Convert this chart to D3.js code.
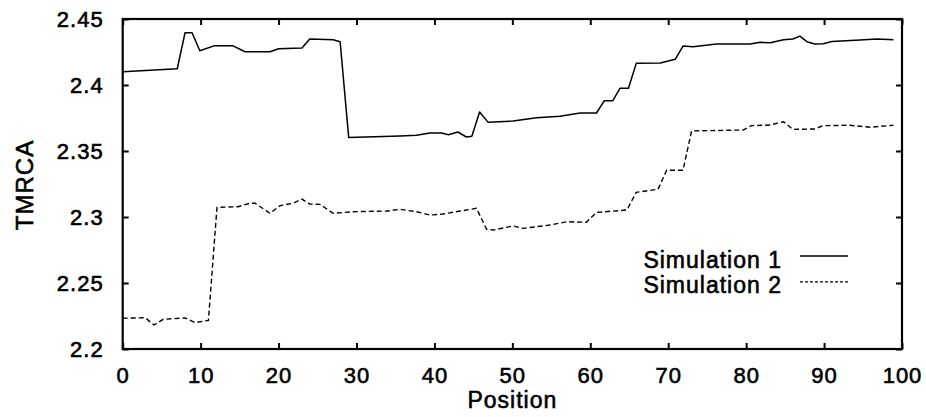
<!DOCTYPE html>
<html>
<head>
<meta charset="utf-8">
<script src="https://cdn.jsdelivr.net/npm/d3@7"></script>
<style>
  html, body { margin: 0; padding: 0; background: #fff; }
  svg { display: block; }
  text { font-family: "Liberation Sans", Arial, Helvetica, sans-serif; fill: #000; }
</style>
</head>
<body>
<svg id="chart" width="926" height="417"></svg>
<script>
// TMRCA along the sequence for two simulated data sets
const positions1 = [0, 7, 8, 8.9, 9.9, 11.8, 14.1, 15.7, 18.9, 20, 23, 24, 27, 27.9, 29, 35.6, 37.7, 39.4, 40.9, 41.8, 43, 44.1, 44.8, 45.8, 46.9, 50.1, 53.1, 56.1, 58.7, 60.8, 61.8, 62.9, 63.8, 64.9, 65.9, 69, 70.9, 71.9, 73.2, 76.2, 80.5, 81.8, 83.1, 84.8, 86, 86.9, 87.8, 88.8, 89.9, 91, 94.6, 96.8, 98.9];
const values1 = [2.4100, 2.4123, 2.4396, 2.4396, 2.4260, 2.4298, 2.4298, 2.4252, 2.4252, 2.4275, 2.4280, 2.4348, 2.4343, 2.4328, 2.3603, 2.3614, 2.3619, 2.3636, 2.3636, 2.3623, 2.3644, 2.3606, 2.3612, 2.3795, 2.3717, 2.3727, 2.3752, 2.3763, 2.3788, 2.3788, 2.3881, 2.3881, 2.3975, 2.3975, 2.4164, 2.4167, 2.4195, 2.4295, 2.4290, 2.4310, 2.4310, 2.4323, 2.4320, 2.4343, 2.4348, 2.4370, 2.4328, 2.4310, 2.4313, 2.4330, 2.4340, 2.4348, 2.4343];

const positions2 = [0, 2.9, 4, 5.2, 8, 9.3, 11, 12.1, 14.8, 16.3, 17, 18.9, 20.2, 21.9, 23, 24, 25.3, 27, 29.6, 33.9, 35.6, 37.7, 39.4, 41.1, 43.3, 45.4, 46.7, 47.6, 50.1, 51.4, 54.8, 57, 59.5, 60.8, 64.7, 65.9, 68.7, 69.8, 71.9, 73, 79.6, 80.7, 83.1, 84.8, 86, 88.8, 89.9, 93.3, 95.9, 98.9];
const values2 = [2.2233, 2.2237, 2.2182, 2.2225, 2.2235, 2.2200, 2.2217, 2.3073, 2.3078, 2.3104, 2.3104, 2.3028, 2.3086, 2.3104, 2.3136, 2.3098, 2.3096, 2.3028, 2.3040, 2.3045, 2.3058, 2.3040, 2.3015, 2.3023, 2.3045, 2.3066, 2.2907, 2.2902, 2.2932, 2.2914, 2.2939, 2.2964, 2.2960, 2.3035, 2.3053, 2.3187, 2.3210, 2.3354, 2.3354, 2.3652, 2.3659, 2.3692, 2.3697, 2.3722, 2.3664, 2.3667, 2.3692, 2.3695, 2.3680, 2.3695];

const xTicks = [0, 10, 20, 30, 40, 50, 60, 70, 80, 90, 100];
const yTicks = [2.2, 2.25, 2.3, 2.35, 2.4, 2.45];
const seriesNames = ["Simulation 1", "Simulation 2"];
const xTitle = "Position";
const yTitle = "TMRCA";

const svg = d3.select("#chart");
const plot = { left: 122.7, right: 902, top: 19, bottom: 349 };

const x = d3.scaleLinear().domain([0, 100]).range([plot.left, plot.right]);
const y = d3.scaleLinear().domain([2.2, 2.45]).range([plot.bottom, plot.top]);

const tickLen = 6;
const textStroke = 0.6;
const fmtY = d => String(+d.toFixed(2));

// bottom axis with labels, ticks pointing inward
const gx = svg.append("g").attr("transform", `translate(0,${plot.bottom})`)
  .call(d3.axisBottom(x).tickValues(xTicks).tickSize(-tickLen).tickPadding(18).tickFormat(d3.format("d")));
// top axis, mirrored ticks only
const gxt = svg.append("g").attr("transform", `translate(0,${plot.top})`)
  .call(d3.axisTop(x).tickValues(xTicks).tickSize(-tickLen).tickFormat(""));
// left axis with labels
const gy = svg.append("g").attr("transform", `translate(${plot.left},0)`)
  .call(d3.axisLeft(y).tickValues(yTicks).tickSize(-tickLen).tickPadding(19).tickFormat(fmtY));
// right axis, mirrored ticks only
const gyr = svg.append("g").attr("transform", `translate(${plot.right},0)`)
  .call(d3.axisRight(y).tickValues(yTicks).tickSize(-tickLen).tickFormat(""));

[gx, gxt, gy, gyr].forEach(g => {
  g.select(".domain").remove();
  g.selectAll(".tick line").attr("stroke", "#000").attr("stroke-width", 2);
  g.selectAll(".tick text")
    .attr("font-size", 22)
    .attr("letter-spacing", "1px")
    .attr("stroke", "#000").attr("stroke-width", textStroke)
    .attr("font-family", "'Liberation Sans', Arial, sans-serif");
});
gx.selectAll(".tick text").attr("dy", "0.71em");
gy.selectAll(".tick text").attr("dy", "0.36em");

// frame
svg.append("rect")
  .attr("x", plot.left).attr("y", plot.top)
  .attr("width", plot.right - plot.left).attr("height", plot.bottom - plot.top)
  .attr("fill", "none").attr("stroke", "#000").attr("stroke-width", 2.2);

// series
const line = d3.line().x(d => x(d[0])).y(d => y(d[1]));
const s1 = positions1.map((p, i) => [p, values1[i]]);
const s2 = positions2.map((p, i) => [p, values2[i]]);

svg.append("path").datum(s1).attr("d", line)
  .attr("fill", "none").attr("stroke", "#000").attr("stroke-width", 1.5)
  .attr("stroke-linejoin", "round");
svg.append("path").datum(s2).attr("d", line)
  .attr("fill", "none").attr("stroke", "#000").attr("stroke-width", 1.4)
  .attr("stroke-dasharray", "5,3");

// axis titles
svg.append("text")
  .attr("x", x(50)).attr("y", 408)
  .attr("text-anchor", "middle")
  .attr("font-size", 23).attr("letter-spacing", "1px")
  .attr("stroke", "#000").attr("stroke-width", textStroke)
  .text(xTitle);
svg.append("text")
  .attr("transform", "translate(33,185) rotate(-90)")
  .attr("text-anchor", "middle")
  .attr("font-size", 24).attr("letter-spacing", "1px")
  .attr("stroke", "#000").attr("stroke-width", textStroke)
  .text(yTitle);

// legend
const legend = svg.append("g");
const dashes = [null, "3,2"];
seriesNames.forEach((name, i) => {
  const base = 267.5 + i * 25.8;
  legend.append("text")
    .attr("x", 782).attr("y", base)
    .attr("text-anchor", "end")
    .attr("font-size", 23).attr("letter-spacing", "1px")
    .attr("stroke", "#000").attr("stroke-width", textStroke)
    .text(name);
  legend.append("line")
    .attr("x1", 800).attr("x2", 848)
    .attr("y1", base - 11.5).attr("y2", base - 11.5)
    .attr("stroke", "#000").attr("stroke-width", 1.3)
    .attr("stroke-dasharray", dashes[i]);
});
</script>
</body>
</html>
